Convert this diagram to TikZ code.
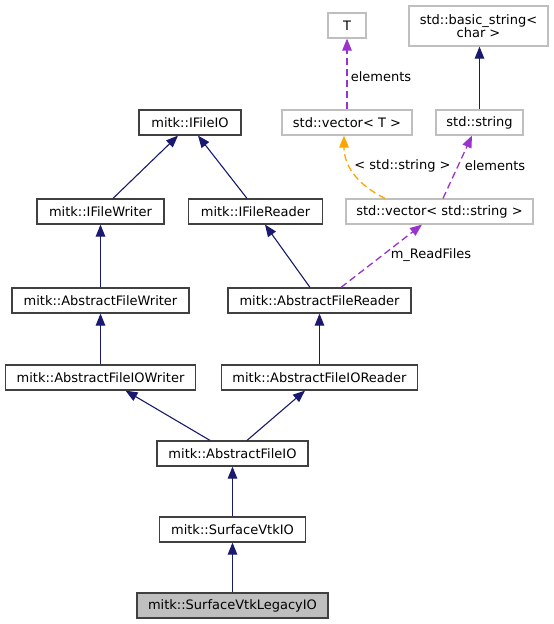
\documentclass[tikz,border=0pt]{standalone}
\usepackage{fontspec}
\setmainfont{DejaVu Sans}
\usetikzlibrary{arrows.meta}
\definecolor{navy}{RGB}{25,25,112}
\definecolor{orchid}{RGB}{154,50,205}
\definecolor{orng}{RGB}{255,165,0}
\definecolor{lgray}{RGB}{191,191,191}
\begin{document}
\begin{tikzpicture}[x=1pt,y=-1pt,
  every node/.style={font=\fontsize{13}{15.5}\selectfont},
  cls/.style={draw=black!75,line width=1.2pt,minimum height=25pt,inner sep=0pt,anchor=center},
  ext/.style={draw=lgray,line width=1.2pt,minimum height=25pt,inner sep=0pt,anchor=center},
  inh/.style={draw=navy,line width=1.1pt,-{Triangle[length=12pt,width=9.5pt]}},
  use/.style={draw=orchid,line width=1.3pt,dash pattern=on 7pt off 4pt,-{Triangle[length=12pt,width=9.5pt]}},
  tmpl/.style={draw=orng,line width=1.3pt,dash pattern=on 7pt off 4pt,-{Triangle[length=12pt,width=9.5pt]}},
  lbl/.style={inner sep=0pt,anchor=center}]
\useasboundingbox (0,0) rectangle (554,624);
% external nodes
\node[ext,minimum width=38pt] (T) at (347,25.5) {T};
\node[ext,minimum width=139pt,minimum height=40pt,align=center] (bstr) at (478.5,26) {std::basic\_string<\\[-2pt]char >};
\node[ext,minimum width=130pt] (vecT) at (347,122.5) {std::vector< T >};
\node[ext,minimum width=87pt] (str) at (479.5,122.5) {std::string};
\node[ext,minimum width=187pt] (vecs) at (439.5,211.5) {std::vector< std::string >};
% class nodes
\node[cls,minimum width=102pt] (ifio) at (190,122.5) {mitk::IFileIO};
\node[cls,minimum width=127pt] (ifw) at (100.5,211.5) {mitk::IFileWriter};
\node[cls,minimum width=134pt] (ifr) at (255.5,211.5) {mitk::IFileReader};
\node[cls,minimum width=177pt] (afw) at (100.5,300.5) {mitk::AbstractFileWriter};
\node[cls,minimum width=183pt] (afr) at (319.5,300.5) {mitk::AbstractFileReader};
\node[cls,minimum width=190pt] (afiow) at (100.5,377.5) {mitk::AbstractFileIOWriter};
\node[cls,minimum width=196pt] (afior) at (319.5,377.5) {mitk::AbstractFileIOReader};
\node[cls,minimum width=151pt] (afio) at (232.5,453.5) {mitk::AbstractFileIO};
\node[cls,minimum width=146pt] (svtk) at (232.5,529.5) {mitk::SurfaceVtkIO};
\node[cls,minimum width=191pt,fill=lgray] (svtkl) at (232.5,605.5) {mitk::SurfaceVtkLegacyIO};
% inheritance edges
\draw[inh] ([xshift=12.5pt]ifw.north) -- ([xshift=-12pt]ifio.south);
\draw[inh] ([xshift=-8.5pt]ifr.north) -- ([xshift=8pt]ifio.south);
\draw[inh] (afw.north) -- (ifw.south);
\draw[inh] ([xshift=-9.5pt]afr.north) -- ([xshift=9.5pt]ifr.south);
\draw[inh] (afiow.north) -- (afw.south);
\draw[inh] (afior.north) -- (afr.south);
\draw[inh] ([xshift=-22.5pt]afio.north) -- ([xshift=25pt]afiow.south);
\draw[inh] ([xshift=14.5pt]afio.north) -- ([xshift=-14.5pt]afior.south);
\draw[inh] (svtk.north) -- (afio.south);
\draw[inh] (svtkl.north) -- (svtk.south);
\draw[inh] (str.north) -- (str.north |- bstr.south);
% usage edges
\draw[use] (vecT.north) -- (T.south);
\node[lbl] (l1) at (381,76.5) {elements};
\draw[tmpl] ([xshift=-54.5pt]vecs.north) .. controls (360,186) and (344,168) .. ([xshift=-3pt]vecT.south);
\node[lbl] (l2) at (402.5,166) {< std::string >};
\draw[use] ([xshift=3.5pt]vecs.north) -- ([xshift=-7.5pt]str.south);
\node[lbl] (l3) at (495,166) {elements};
\draw[use] ([xshift=21.5pt]afr.north) -- ([xshift=-17.5pt]vecs.south);
\node[lbl] (l4) at (431,255) {m\_ReadFiles};
\end{tikzpicture}
\end{document}
